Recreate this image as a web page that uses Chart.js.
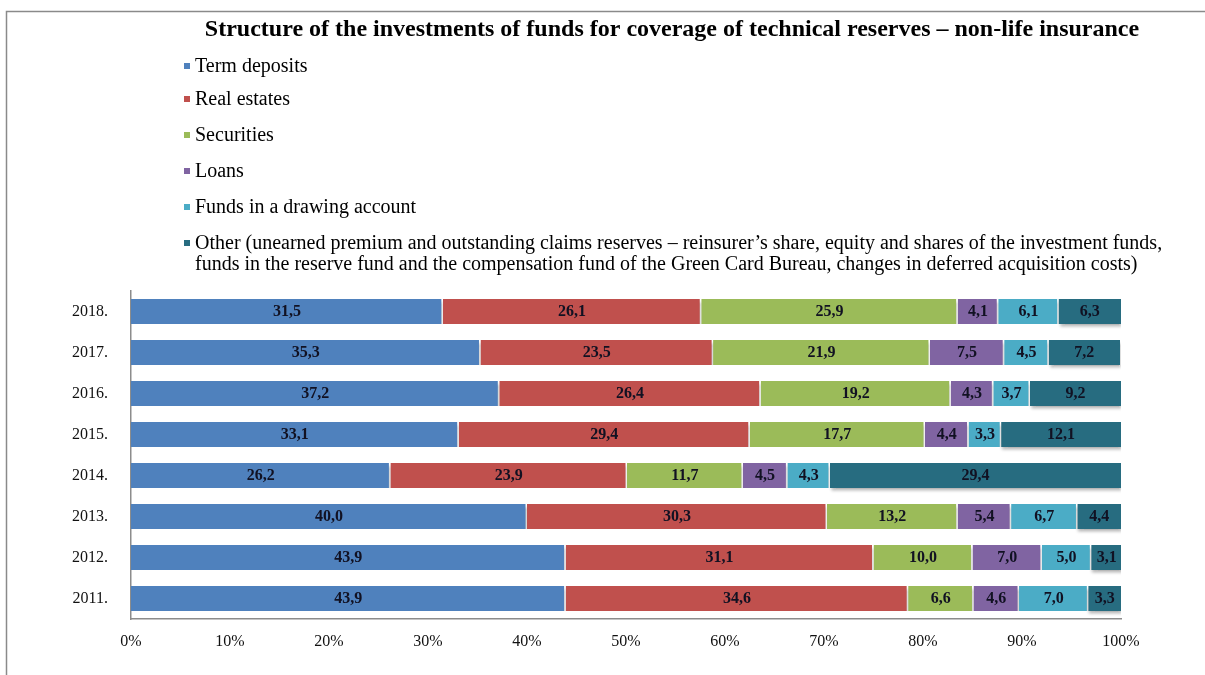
<!DOCTYPE html>
<html>
<head>
<meta charset="utf-8">
<script src="https://cdn.jsdelivr.net/npm/chart.js@4.4.0/dist/chart.umd.min.js"></script>
<style>
  html, body { margin: 0; padding: 0; background: #fff; }
  #wrap { width: 1205px; height: 675px; position: relative; }
</style>
</head>
<body>
<div id="wrap"><canvas id="structure-chart"></canvas></div>
<script>
const years = ['2018.', '2017.', '2016.', '2015.', '2014.', '2013.', '2012.', '2011.'];

const termDeposits = [31.5, 35.3, 37.2, 33.1, 26.2, 40.0, 43.9, 43.9];
const realEstates  = [26.1, 23.5, 26.4, 29.4, 23.9, 30.3, 31.1, 34.6];
const securities   = [25.9, 21.9, 19.2, 17.7, 11.7, 13.2, 10.0, 6.6];
const loans        = [4.1, 7.5, 4.3, 4.4, 4.5, 5.4, 7.0, 4.6];
const drawingFunds = [6.1, 4.5, 3.7, 3.3, 4.3, 6.7, 5.0, 7.0];
const other        = [6.3, 7.2, 9.2, 12.1, 29.4, 4.4, 3.1, 3.3];

const seriesNames = [
    'Term deposits',
    'Real estates',
    'Securities',
    'Loans',
    'Funds in a drawing account',
    ['Other (unearned premium and outstanding claims reserves \u2013 reinsurer\u2019s share, equity and shares of the investment funds,',
     'funds in the reserve fund and the compensation fund of the Green Card Bureau, changes in deferred acquisition costs)']
];
const seriesColors = ['#4F81BD', '#C0504D', '#9BBB59', '#8064A2', '#4BACC6', '#276C80'];
const xTicks = [0, 10, 20, 30, 40, 50, 60, 70, 80, 90, 100];

const chartTitle = 'Structure of the investments of funds for coverage of technical reserves \u2013 non-life insurance';
const serif = '"Liberation Serif", "Times New Roman", serif';

const allSeries = [termDeposits, realEstates, securities, loans, drawingFunds, other];

// frame, title and the stacked legend list above the bars
const headerPlugin = {
    id: 'header',
    beforeDraw(chart) {
        const ctx = chart.ctx;
        ctx.save();
        ctx.strokeStyle = '#8a8a8a';
        ctx.lineWidth = 1.5;
        ctx.beginPath();
        ctx.moveTo(6.5, 676);
        ctx.lineTo(6.5, 11.5);
        ctx.lineTo(1205, 11.5);
        ctx.stroke();
        ctx.restore();
    },
    afterDraw(chart) {
        const ctx = chart.ctx;
        ctx.save();
        ctx.fillStyle = '#000';
        ctx.textAlign = 'center';
        ctx.textBaseline = 'middle';
        ctx.font = 'bold 24px ' + serif;
        ctx.fillText(chartTitle, 672, 30);

        const rows = [67, 100, 136, 172, 208, 244];
        ctx.textAlign = 'left';
        ctx.font = '20px ' + serif;
        seriesNames.forEach((name, i) => {
            const y = rows[i];
            ctx.fillStyle = seriesColors[i];
            ctx.fillRect(184, y - 4, 6, 6);
            ctx.fillStyle = '#000';
            const lines = Array.isArray(name) ? name : [name];
            lines.forEach((line, j) => ctx.fillText(line, 195, y + j * 21));
        });
        ctx.restore();
    }
};

// soft drop shadow under the bars
const shadowPlugin = {
    id: 'barShadow',
    beforeDatasetsDraw(chart) {
        const ctx = chart.ctx;
        ctx.save();
        ctx.shadowColor = 'rgba(0,0,0,0.28)';
        ctx.shadowBlur = 3;
        ctx.shadowOffsetX = 1;
        ctx.shadowOffsetY = 3;
    },
    afterDatasetsDraw(chart) {
        chart.ctx.restore();
    }
};

// value labels centred on every segment
const valueLabels = {
    id: 'valueLabels',
    afterDatasetsDraw(chart) {
        const ctx = chart.ctx;
        ctx.save();
        ctx.font = 'bold 16px ' + serif;
        ctx.fillStyle = '#111122';
        ctx.textAlign = 'center';
        ctx.textBaseline = 'middle';
        chart.data.datasets.forEach((ds, i) => {
            chart.getDatasetMeta(i).data.forEach((bar, j) => {
                const cx = (bar.x + bar.base) / 2;
                ctx.fillText(ds.data[j].toFixed(1).replace('.', ','), cx, bar.y);
            });
        });
        ctx.restore();
    }
};

const ctx = document.getElementById('structure-chart').getContext('2d');
new Chart(ctx, {
    type: 'bar',
    data: {
        labels: years,
        datasets: allSeries.map((values, i) => ({
            label: Array.isArray(seriesNames[i]) ? seriesNames[i].join(' ') : seriesNames[i],
            data: values,
            backgroundColor: seriesColors[i],
            borderColor: '#ffffff',
            borderWidth: { left: 0, right: i < allSeries.length - 1 ? 1.5 : 0, top: 0, bottom: 0 },
            borderSkipped: false,
            categoryPercentage: 1,
            barPercentage: 0.61
        }))
    },
    options: {
        responsive: true,
        maintainAspectRatio: false,
        animation: false,
        indexAxis: 'y',
        layout: {
            padding: { top: 291, left: 10, right: 84, bottom: 16 }
        },
        scales: {
            x: {
                stacked: true,
                min: 0,
                max: 100,
                afterBuildTicks: axis => { axis.ticks = xTicks.map(v => ({ value: v })); },
                afterFit: axis => { axis.height = 40; },
                grid: { display: false, drawTicks: false },
                border: { display: true, color: '#8c8c8c', width: 1.5 },
                ticks: {
                    padding: 13,
                    color: '#111',
                    font: { family: serif, size: 16 },
                    callback: v => v + '%'
                }
            },
            y: {
                stacked: true,
                afterFit: axis => { axis.width = 121; },
                grid: { display: false, drawTicks: false },
                border: { display: true, color: '#8c8c8c', width: 1.5 },
                ticks: {
                    padding: 23,
                    color: '#111',
                    font: { family: serif, size: 16 }
                }
            }
        },
        plugins: {
            legend: { display: false },
            title: { display: false },
            tooltip: { enabled: false }
        }
    },
    plugins: [headerPlugin, shadowPlugin, valueLabels]
});
</script>
</body>
</html>
